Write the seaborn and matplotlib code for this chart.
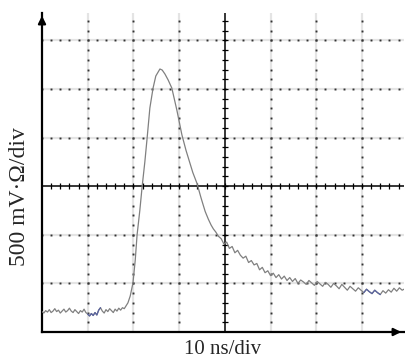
import numpy as np
import matplotlib
matplotlib.use("Agg")
import matplotlib.pyplot as plt
import pandas as pd
import seaborn as sns

# time in ns (10 ns/div), signal in mV (500 mV/div)
base_t = [0.0, 0.4, 0.8, 1.2, 1.6, 2.0, 2.4, 2.8, 3.2, 3.6, 4.0, 4.4, 4.8, 5.2,
          5.6, 6.0, 6.4, 6.8, 7.2, 7.6, 8.0, 8.4, 8.8, 9.2, 9.6, 10.0, 10.4, 10.8,
          11.2, 11.6, 12.0, 12.4, 12.8, 13.2, 13.6, 14.0, 14.4, 14.8, 15.2, 15.6,
          16.0, 16.4, 16.8, 17.2, 17.6, 18.0]
base_v = [210, 195, 220, 205, 230, 200, 215, 240, 210, 225, 195, 215, 235, 205,
          220, 245, 215, 200, 230, 210, 190, 220, 205, 235, 200, 185, 165, 190,
          170, 200, 175, 225, 250, 215, 195, 230, 210, 240, 220, 200, 235, 215,
          245, 225, 250, 240]

pulse_t = [18.4, 18.8, 19.3, 19.9, 20.4, 20.8, 21.4, 21.9, 22.5, 23.0, 23.6, 24.3,
           24.9, 25.4, 25.8, 26.3, 26.9, 27.6, 28.4, 29.5, 30.6, 31.5, 32.4, 33.0,
           33.9, 34.8, 35.7, 36.4, 37.0, 37.5]
pulse_v = [270, 300, 370, 504, 740, 998, 1250, 1492, 1750, 1996, 2305, 2510,
           2634, 2675, 2706, 2695, 2654, 2593, 2510, 2284, 2030, 1870, 1730, 1640,
           1530, 1379, 1240, 1160, 1100, 1060]

tail_t = [38.0, 38.6, 39.2, 39.8, 40.4, 41.0, 41.6, 42.2, 42.8, 43.4, 44.0, 44.6,
          45.2, 45.8, 46.4, 47.0, 47.6, 48.2, 48.8, 49.4, 50.0, 50.6, 51.2, 51.8,
          52.4, 53.0, 53.6, 54.2, 54.8, 55.4, 56.0, 56.6, 57.2, 57.8, 58.4, 59.0,
          59.6, 60.2, 60.8, 61.4, 62.0, 62.6, 63.2, 63.8, 64.4, 65.0, 65.6, 66.2,
          66.8, 67.4, 68.0, 68.6, 69.2, 69.8, 70.4, 71.0, 71.6, 72.2, 72.8, 73.4,
          74.0, 74.6, 75.2, 75.8, 76.4, 77.0, 77.6, 78.2, 78.8, 79.4]
tail_v = [1030, 985, 960, 905, 925, 860, 880, 815, 840, 790, 760, 780,
          715, 735, 690, 705, 640, 665, 610, 630, 580, 605, 560, 590,
          545, 575, 530, 560, 520, 550, 500, 535, 515, 490, 530, 505,
          480, 520, 495, 470, 510, 490, 460, 500, 475, 445, 490, 460,
          430, 470, 445, 420, 455, 430, 405, 440, 415, 395, 430, 405,
          385, 425, 400, 435, 410, 450, 420, 455, 430, 445]

df = pd.DataFrame({"t": base_t + pulse_t + tail_t,
                   "v": base_v + pulse_v + tail_v})

x_div, y_div = 10, 500
x_max, y_max = 79.2, 3282

sns.set_style("white")
serif = ["Liberation Serif", "DejaVu Serif"]

fig = plt.figure(figsize=(4.06, 3.6), dpi=100)
ax = fig.add_axes([42 / 406, 28 / 360, 362 / 406, 319 / 360])

# dotted graticule
for k in [1, 2, 3, 5, 6, 7]:
    ax.axvline(k * x_div, color="#e4e4e4", lw=1.6, zorder=1)
    yy = np.arange(0, y_max, y_div / 5)
    ax.plot(np.full_like(yy, k * x_div), yy, ls="none", marker="s", ms=1.4,
            mew=0, color="#333333", zorder=2)
for k in [1, 2, 4, 5, 6]:
    ax.axhline(k * y_div, color="#e4e4e4", lw=1.6, zorder=1)
    xx = np.arange(0, x_max, x_div / 5)
    ax.plot(xx, np.full_like(xx, k * y_div), ls="none", marker="s", ms=1.4,
            mew=0, color="#333333", zorder=2)

# centre crosshair with minor ticks
ax.axvline(4 * x_div, color="black", lw=1.1, zorder=3)
ax.axhline(3 * y_div, color="black", lw=1.1, zorder=3)
xx = np.arange(x_div / 5, x_max, x_div / 5)
ax.plot(xx, np.full_like(xx, 3 * y_div), ls="none", marker="|", ms=5, mew=0.9,
        color="black", zorder=3)
yy = np.arange(y_div / 5, y_max, y_div / 5)
ax.plot(np.full_like(yy, 4 * x_div), yy, ls="none", marker="_", ms=5, mew=0.9,
        color="black", zorder=3)

# trace
sns.lineplot(data=df, x="t", y="v", ax=ax, color="#808080", lw=0.9,
             estimator=None, sort=False, zorder=4)
blue1 = df[(df["t"] >= 10) & (df["t"] <= 13)]
blue2 = df[(df["t"] >= 70) & (df["t"] <= 74)]
for part in (blue1, blue2):
    sns.lineplot(data=part, x="t", y="v", ax=ax, color="#5a64a0", lw=0.9,
                 estimator=None, sort=False, zorder=5)

ax.set_xlim(0, x_max)
ax.set_ylim(0, y_max)
ax.set_xticks(np.arange(0, x_max, x_div))
ax.set_xticks(np.arange(0, x_max, x_div / 5), minor=True)
ax.set_yticks(np.arange(0, y_max, y_div))
ax.set_yticks(np.arange(0, y_max, y_div / 5), minor=True)
ax.set_xticklabels([])
ax.set_yticklabels([])
ax.tick_params(which="both", direction="in", length=3, width=1, color="black")
ax.set_xlabel("")
ax.set_ylabel("")

for s in ["top", "right"]:
    ax.spines[s].set_visible(False)
for s in ["left", "bottom"]:
    ax.spines[s].set_color("black")
    ax.spines[s].set_linewidth(1.6)

ax.annotate("", xy=(0, 1.0), xytext=(0, 0.96), xycoords="axes fraction",
            arrowprops=dict(arrowstyle="-|>", color="black", lw=1.6,
                            mutation_scale=11), annotation_clip=False)
ax.annotate("", xy=(1.0, 0), xytext=(0.97, 0), xycoords="axes fraction",
            arrowprops=dict(arrowstyle="-|>", color="black", lw=1.6,
                            mutation_scale=11), annotation_clip=False)

fig.text(223 / 406, 1 - 349 / 360, "10 ns/div", ha="center", va="center",
         fontsize=15, family=serif)
fig.text(20 / 406, 1 - 197 / 360, "500 mV\u00b7\u03a9/div", ha="center",
         va="center", rotation=90, fontsize=17, family=serif)

fig.savefig("out.png", dpi=100)
